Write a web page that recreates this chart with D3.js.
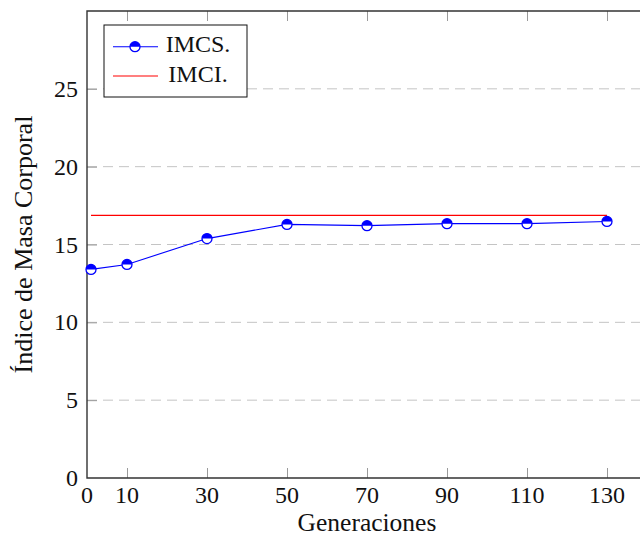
<!DOCTYPE html>
<html>
<head>
<meta charset="utf-8">
<script src="https://cdn.jsdelivr.net/npm/d3@7"></script>
<style>
  body { margin: 0; background: #fff; }
  svg { display: block; font-family: "Liberation Serif", "DejaVu Serif", serif; }
</style>
</head>
<body>
<div id="chart"></div>
<script>
"use strict";

// --- data ---
const generations = [1, 10, 30, 50, 70, 90, 110, 130]
const imcsValues  = [13.40, 13.72, 15.38, 16.29, 16.21, 16.34, 16.34, 16.48]
const imciValues  = [16.87, 16.87, 16.87, 16.87, 16.87, 16.87, 16.87, 16.87]
const xTicks = [0, 10, 30, 50, 70, 90, 110, 130]
const yTicks = [0, 5, 10, 15, 20, 25]
const seriesNames = ["IMCS.", "IMCI."]

const width = 640
const height = 537
const margin = { left: 87, top: 11, right: -7, bottom: 59 }
const fontPx = 24

const svg = d3.select("#chart").append("svg")
    .attr("width", width)
    .attr("height", height)

const x = d3.scaleLinear().domain([0, 140]).range([margin.left, width - margin.right])
const y = d3.scaleLinear().domain([0, 30]).range([height - margin.bottom, margin.top])

const x0 = x.range()[0], x1 = x.range()[1]
const y0 = y.range()[0], y1 = y.range()[1]

// grid lines (dashed)
svg.append("g")
    .selectAll("line")
    .data(yTicks.filter(d => d > 0))
    .enter().append("line")
    .attr("x1", x0).attr("x2", x1)
    .attr("y1", d => y(d)).attr("y2", d => y(d))
    .attr("stroke", "#c4c4c4")
    .attr("stroke-width", 1)
    .attr("stroke-dasharray", "10,6")

// inner ticks via d3 axes (labels drawn separately)
const tickLen = 10
const tickStyle = g => {
    g.select(".domain").remove()
    g.selectAll(".tick line").attr("stroke", "#9a9a9a").attr("stroke-width", 1)
    g.selectAll(".tick text").remove()
}
svg.append("g").attr("transform", `translate(0,${y0})`)
    .call(d3.axisBottom(x).tickValues(xTicks.filter(d => d > 0)).tickSize(-tickLen)).call(tickStyle)
svg.append("g").attr("transform", `translate(0,${y1})`)
    .call(d3.axisTop(x).tickValues(xTicks.filter(d => d > 0)).tickSize(-tickLen)).call(tickStyle)
svg.append("g").attr("transform", `translate(${x0},0)`)
    .call(d3.axisLeft(y).tickValues(yTicks.filter(d => d > 0)).tickSize(-tickLen)).call(tickStyle)

// tick labels
svg.append("g")
    .selectAll("text")
    .data(xTicks)
    .enter().append("text")
    .attr("x", d => x(d))
    .attr("y", y0 + 25)
    .attr("text-anchor", "middle")
    .attr("font-size", fontPx)
    .attr("fill", "#111")
    .text(d => d)

svg.append("g")
    .selectAll("text")
    .data(yTicks)
    .enter().append("text")
    .attr("x", x0 - 9)
    .attr("y", d => y(d) + 8)
    .attr("text-anchor", "end")
    .attr("font-size", fontPx)
    .attr("fill", "#111")
    .text(d => d)

// spines
svg.append("path")
    .attr("d", `M${x1},${y1}H${x0}V${y0}H${x1}`)
    .attr("fill", "none")
    .attr("stroke", "#333")
    .attr("stroke-width", 1.4)

// IMCI line
const line = d3.line().x((d, i) => x(generations[i])).y(d => y(d))
svg.append("path")
    .datum(imciValues)
    .attr("d", line)
    .attr("fill", "none")
    .attr("stroke", "#ff0000")
    .attr("stroke-width", 1.1)

// IMCS line
svg.append("path")
    .datum(imcsValues)
    .attr("d", line)
    .attr("fill", "none")
    .attr("stroke", "#0000ff")
    .attr("stroke-width", 1.1)

// half-filled circle marker
const r = 5
function drawMarker (g) {
    g.append("circle").attr("r", r).attr("fill", "#fff")
    g.append("path")
        .attr("d", `M${-r},0A${r},${r} 0 0 1 ${r},0Z`)
        .attr("fill", "#0000ff")
    g.append("circle").attr("r", r).attr("fill", "none")
        .attr("stroke", "#0000ff").attr("stroke-width", 1.3)
}

svg.append("g")
    .selectAll("g")
    .data(imcsValues)
    .enter().append("g")
    .attr("transform", (d, i) => `translate(${x(generations[i])},${y(d)})`)
    .each(function () { drawMarker(d3.select(this)) })

// axis titles
svg.append("text")
    .attr("x", (x0 + x1) / 2)
    .attr("y", 531)
    .attr("text-anchor", "middle")
    .attr("font-size", 25.5)
    .attr("fill", "#111")
    .text("Generaciones")

svg.append("text")
    .attr("transform", `translate(32,${(y0 + y1) / 2}) rotate(-90)`)
    .attr("text-anchor", "middle")
    .attr("font-size", 26)
    .attr("fill", "#111")
    .text("Índice de Masa Corporal")

// legend
const lg = svg.append("g").attr("transform", "translate(104,25)")
lg.append("rect")
    .attr("width", 143).attr("height", 72)
    .attr("fill", "#fff").attr("stroke", "#111").attr("stroke-width", 1)

const legendColors = ["#0000ff", "#ff0000"]
seriesNames.forEach((name, i) => {
    const cy = 21.7 + i * 29.3
    lg.append("line")
        .attr("x1", 9).attr("x2", 54)
        .attr("y1", cy).attr("y2", cy)
        .attr("stroke", legendColors[i]).attr("stroke-width", 1.1)
    if (i === 0) drawMarker(lg.append("g").attr("transform", `translate(31,${cy})`))
    lg.append("text")
        .attr("x", 94)
        .attr("y", cy + 5.6)
        .attr("text-anchor", "middle")
        .attr("font-size", fontPx)
        .attr("fill", "#111")
        .text(name)
})
</script>
</body>
</html>
